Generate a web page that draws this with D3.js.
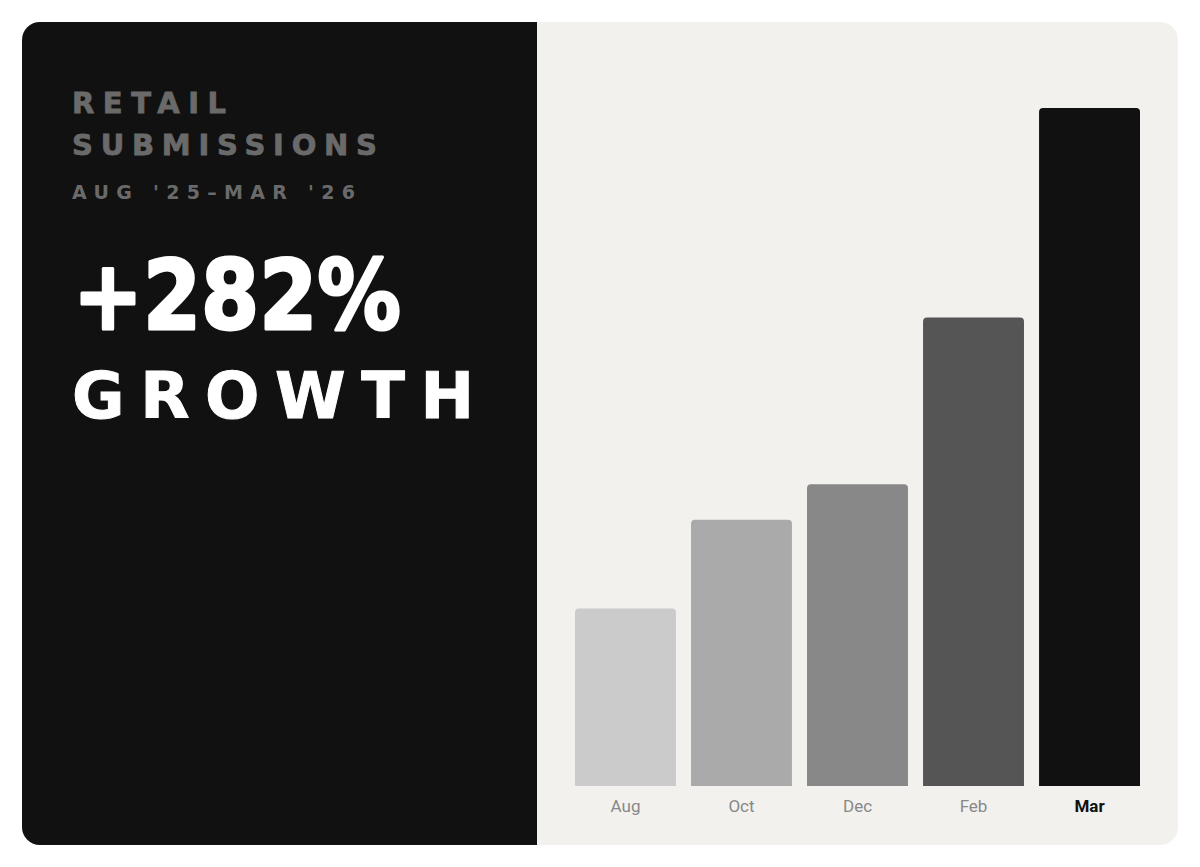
<!DOCTYPE html>
<html>
<head>
<meta charset="utf-8">
<script src="https://cdn.jsdelivr.net/npm/d3@7"></script>
<style>
  html, body { margin: 0; padding: 0; background: #ffffff; }
  svg { display: block; }
</style>
</head>
<body>
<div id="chart"></div>
<script>
// ---- data ----
const categories = ["Aug", "Oct", "Dec", "Feb", "Mar"];
const values = [100, 150, 170, 264, 382];
const barColors = ["#cbcbcb", "#aaaaaa", "#888888", "#555555", "#111111"];
const titleLines = ["RETAIL", "SUBMISSIONS"];
const subtitle = "AUG '25\u2013MAR '26";
const headline = "+282%";
const headline2 = "GROWTH";

const W = 1200, H = 867;
const card = { x: 22, y: 22, w: 1156, h: 823, r: 18 };
const splitX = 537;

const svg = d3.select("#chart").append("svg")
  .attr("width", W).attr("height", H);

const defs = svg.append("defs");
defs.append("clipPath").attr("id", "cardClip")
  .append("rect")
  .attr("x", card.x).attr("y", card.y)
  .attr("width", card.w).attr("height", card.h)
  .attr("rx", card.r).attr("ry", card.r);

const cardG = svg.append("g").attr("clip-path", "url(#cardClip)");
cardG.append("rect")
  .attr("x", card.x).attr("y", card.y)
  .attr("width", card.w).attr("height", card.h)
  .attr("fill", "#f2f1ee");
cardG.append("rect")
  .attr("x", card.x).attr("y", card.y)
  .attr("width", splitX - card.x).attr("height", card.h)
  .attr("fill", "#111111");

// ---- left text ----
const left = svg.append("g");
const titleFont = "'DejaVu Sans', sans-serif";
left.selectAll("text.title").data(titleLines).join("text")
  .attr("class", "title")
  .attr("x", 72)
  .attr("y", (d, i) => 113 + i * 42)
  .attr("fill", "#6a6a6a")
  .attr("stroke", "#6a6a6a").attr("stroke-width", 0.8)
  .attr("font-family", titleFont)
  .attr("font-weight", 700)
  .attr("font-size", 29)
  .attr("textLength", (d, i) => i === 0 ? 154 : 305)
  .attr("lengthAdjust", "spacing")
  .text(d => d);

left.append("text")
  .attr("x", 72).attr("y", 199)
  .attr("fill", "#6a6a6a")
  .attr("font-family", titleFont)
  .attr("font-weight", 700)
  .attr("font-size", 19)
  .attr("textLength", 283)
  .attr("lengthAdjust", "spacing")
  .text(subtitle);

left.append("text")
  .attr("x", 73).attr("y", 329)
  .attr("fill", "#ffffff")
  .attr("font-family", titleFont)
  .attr("font-weight", 900)
  .attr("font-size", 96)
  .attr("stroke", "#ffffff").attr("stroke-width", 3)
  .attr("stroke-linejoin", "round")
  .attr("textLength", 328)
  .attr("lengthAdjust", "spacingAndGlyphs")
  .text(headline);

left.append("text")
  .attr("x", 72).attr("y", 418)
  .attr("fill", "#ffffff")
  .attr("stroke", "#ffffff").attr("stroke-width", 1)
  .attr("font-family", titleFont)
  .attr("font-weight", 700)
  .attr("font-size", 64)
  .attr("textLength", 402)
  .attr("lengthAdjust", "spacing")
  .text(headline2);

// ---- bars ----
const x = d3.scaleBand()
  .domain(categories)
  .range([575, 1140])
  .paddingInner(0.13)
  .paddingOuter(0);

const y = d3.scaleLinear()
  .domain([0, d3.max(values)])
  .range([786, 108]);

const data = categories.map((c, i) => ({ c, v: values[i], color: barColors[i] }));

const rad = 4;
function barPath(d) {
  const x0 = x(d.c), x1 = x0 + x.bandwidth();
  const y0 = y(d.v), y1 = y(0);
  return `M${x0},${y1} L${x0},${y0 + rad} Q${x0},${y0} ${x0 + rad},${y0} L${x1 - rad},${y0} Q${x1},${y0} ${x1},${y0 + rad} L${x1},${y1} Z`;
}

svg.append("g").selectAll("path").data(data).join("path")
  .attr("d", barPath)
  .attr("fill", d => d.color);

// ---- axis labels ----
const axis = d3.axisBottom(x).tickSize(0).tickPadding(0);
const axG = svg.append("g")
  .attr("transform", `translate(0, ${802})`)
  .call(axis);
axG.select(".domain").remove();
axG.selectAll("text")
  .attr("font-family", "Roboto, Inter, sans-serif")
  .attr("font-size", 17)
  .attr("dy", "0.6em")
  .attr("fill", (d, i) => i === categories.length - 1 ? "#111111" : "#888888")
  .attr("font-weight", (d, i) => i === categories.length - 1 ? 700 : 400);
</script>
</body>
</html>
